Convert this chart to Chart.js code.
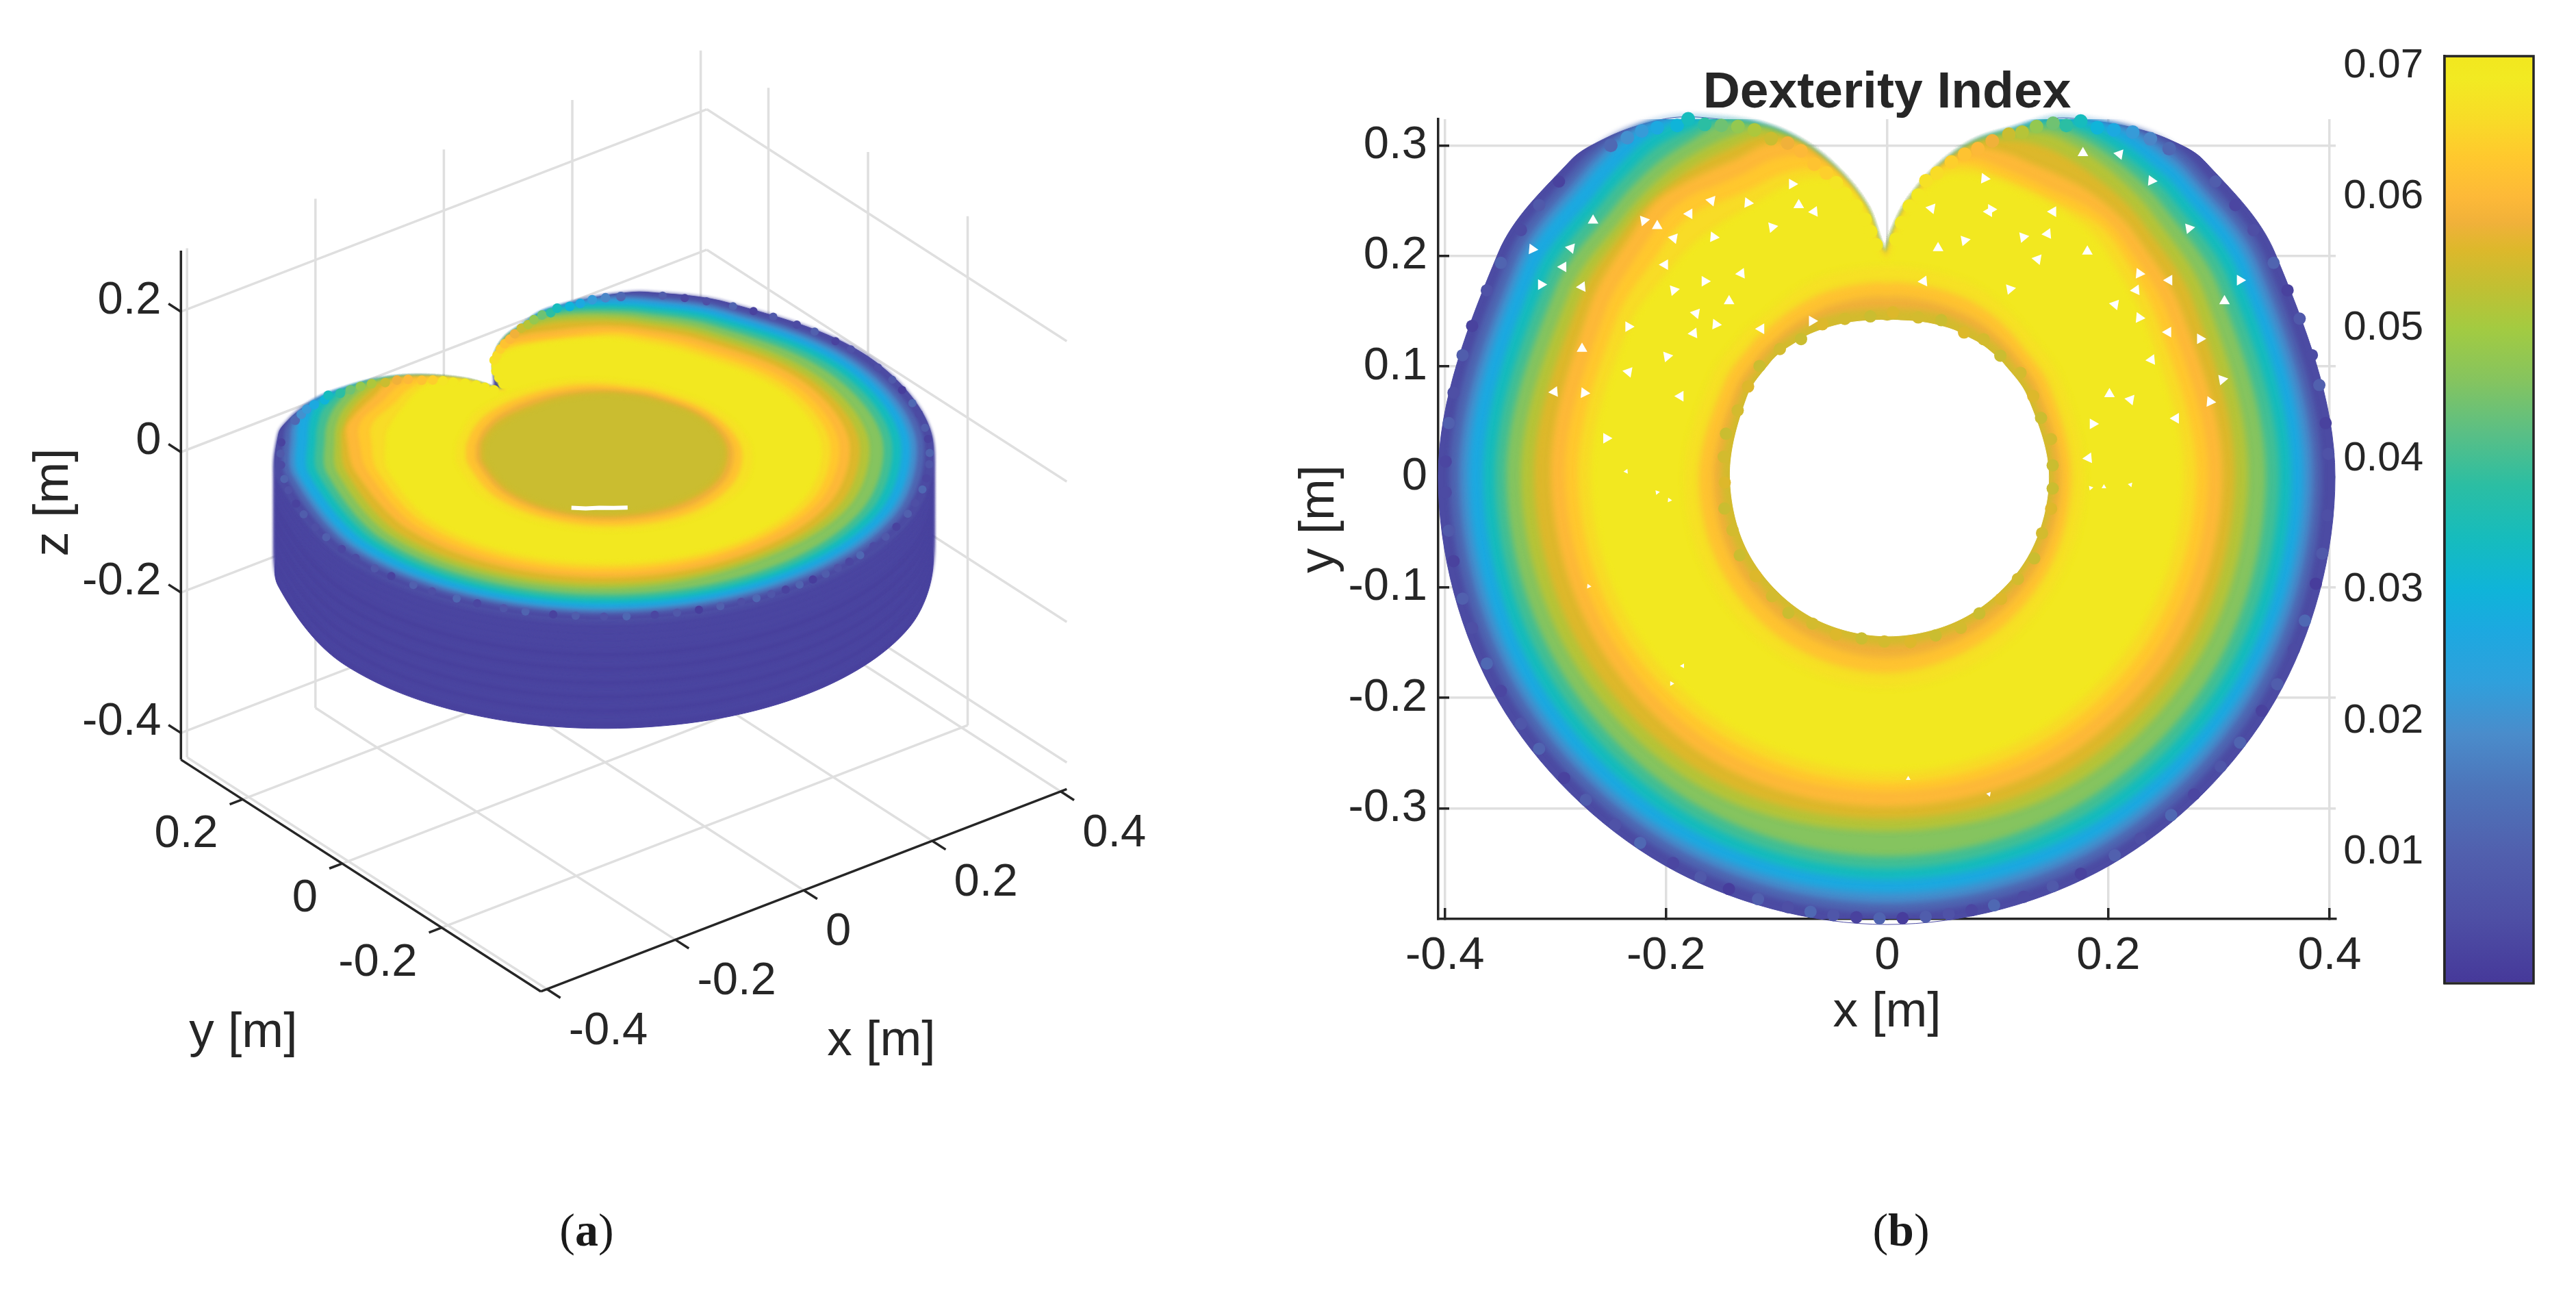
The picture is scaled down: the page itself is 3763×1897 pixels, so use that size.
<!DOCTYPE html>
<html>
<head>
<meta charset="utf-8">
<title>Dexterity Index</title>
<script src="https://cdn.jsdelivr.net/npm/chart.js@4/dist/chart.umd.min.js"></script>
<style>
html, body { margin: 0; padding: 0; background: #fff; }
body { width: 3763px; height: 1897px; position: relative; overflow: hidden; }
canvas { position: absolute; top: 0; }
#panelA { left: 0; }
#panelB { left: 1880px; }
#panelC { left: 3400px; }
.caption { position: absolute; top: 1757px; font: 68px "Liberation Serif", serif; color: #1a1a1a; transform: translateX(-50%); }
.caption b { font-weight: bold; }
</style>
</head>
<body>
<canvas id="panelA" width="1880" height="1897"></canvas>
<canvas id="panelB" width="1650" height="1897"></canvas>
<canvas id="panelC" width="363" height="1897"></canvas>
<div class="caption" style="left:857px">(<b>a</b>)</div>
<div class="caption" style="left:2777px">(<b>b</b>)</div>
<script>
// Tick values
const xTicks = [-0.4, -0.2, 0, 0.2, 0.4];
const yTicks = [-0.3, -0.2, -0.1, 0, 0.1, 0.2, 0.3];
const xTicks3d = [-0.4, -0.2, 0, 0.2, 0.4];
const yTicks3d = [-0.2, 0, 0.2];
const zTicks3d = [-0.4, -0.2, 0, 0.2];
const colorbarTicks = [0.01, 0.02, 0.03, 0.04, 0.05, 0.06, 0.07];

// Colormap
const colormapValues = [0.0001, 0.005, 0.010, 0.015, 0.019, 0.023, 0.027, 0.030, 0.034, 0.038, 0.042, 0.046, 0.050, 0.053, 0.056, 0.058, 0.060, 0.063, 0.066, 0.069, 0.0708];
const colormapColors = ['#46399A', '#4E4FA5', '#5160AE', '#4D75BA', '#4A8CCB', '#2FA0DC', '#1CA9E0', '#0FB4D9', '#16BCBD', '#2BBEA3', '#5ABF85', '#85C45F', '#A3CB41', '#C0C033', '#DDB82B', '#F0B13A', '#FDB938', '#FFC82E', '#F8DC27', '#F2EA22', '#F2E71F'];

// Angles (deg) at which the iso-dexterity outlines were read
const outlineAngles = [0, 30, 45, 50, 55, 60, 65, 70, 75, 80, 85, 88, 90, 92, 95, 100, 105, 110, 115, 120, 125, 130, 135, 150, 180, 210, 240, 270, 300, 330];

// Radius (m) of each outline at those angles, outermost first
const outerEdge = [.405, .405, .405, .398, .386, .372, .358, .333, .313, .285, .250, .222, .197, .207, .245, .283, .314, .338, .357, .376, .389, .399, .405, .406, .406, .406, .405, .405, .405, .405];
const band012 = [.392, .394, .396, .395, .386, .372, .358, .333, .313, .285, .250, .222, .197, .207, .245, .283, .314, .338, .357, .376, .389, .397, .397, .396, .395, .394, .394, .394, .394, .393];
const band020 = [.384, .386, .388, .388, .384, .372, .358, .333, .313, .285, .250, .222, .197, .207, .245, .283, .314, .338, .357, .376, .388, .391, .389, .387, .386, .385, .385, .385, .385, .384];
const band027 = [.376, .378, .381, .381, .379, .372, .358, .333, .313, .285, .250, .222, .197, .207, .245, .283, .314, .338, .357, .376, .385, .385, .382, .380, .378, .377, .377, .376, .377, .376];
const band034 = [.365, .367, .370, .370, .370, .367, .358, .333, .313, .285, .250, .222, .197, .207, .245, .283, .314, .338, .357, .372, .375, .372, .368, .367, .365, .365, .365, .364, .365, .365];
const band040 = [.354, .356, .360, .361, .361, .360, .354, .333, .313, .285, .250, .222, .197, .207, .245, .283, .314, .338, .357, .361, .364, .361, .358, .356, .354, .354, .354, .354, .354, .354];
const band046 = [.342, .345, .350, .352, .353, .353, .349, .333, .313, .285, .250, .222, .197, .207, .245, .283, .314, .338, .352, .352, .352, .350, .347, .345, .344, .343, .343, .343, .343, .343];
const band052 = [.326, .331, .338, .341, .343, .344, .342, .330, .313, .285, .250, .222, .197, .207, .245, .283, .314, .336, .339, .340, .340, .338, .335, .332, .331, .329, .327, .320, .325, .326];
const band056 = [.314, .319, .326, .329, .330, .331, .330, .324, .313, .285, .250, .222, .197, .207, .245, .283, .314, .328, .329, .330, .330, .329, .327, .321, .319, .317, .315, .309, .313, .314];
const band060 = [.303, .306, .314, .316, .316, .314, .312, .312, .308, .285, .250, .222, .197, .207, .245, .283, .312, .320, .318, .320, .323, .325, .320, .310, .304, .302, .301, .298, .300, .302];
const band063 = [.290, .293, .302, .305, .303, .299, .298, .298, .298, .285, .250, .222, .197, .207, .245, .283, .300, .305, .303, .305, .310, .310, .305, .295, .291, .289, .288, .284, .287, .289];
const band066 = [.279, .282, .294, .297, .294, .291, .290, .290, .291, .283, .250, .222, .197, .207, .245, .278, .288, .290, .288, .290, .295, .295, .290, .283, .279, .278, .277, .276, .277, .278];
const band070 = [.268, .271, .283, .288, .288, .287, .286, .286, .284, .275, .250, .222, .197, .207, .245, .272, .279, .278, .275, .274, .274, .274, .272, .270, .268, .267, .267, .267, .267, .267];
// Outlines going in towards the hole
const inner067 = [.178, .180, .182, .184, .186, .188, .190, .190, .190, .190, .190, .190, .190, .190, .190, .190, .190, .190, .188, .186, .184, .184, .184, .183, .183, .185, .188, .190, .186, .180];
const inner062 = [.166, .168, .170, .172, .174, .175, .176, .176, .176, .176, .176, .176, .175, .176, .176, .176, .176, .176, .175, .174, .173, .172, .172, .170, .170, .172, .175, .177, .172, .168];
const inner058 = [.157, .158, .160, .161, .162, .163, .163, .163, .163, .163, .163, .163, .162, .163, .163, .163, .163, .163, .162, .162, .161, .160, .160, .158, .157, .159, .161, .163, .160, .158];
const inner055 = [.151, .152, .154, .155, .155, .155, .155, .155, .154, .153, .152, .152, .151, .152, .152, .153, .154, .155, .155, .155, .155, .155, .154, .152, .150, .151, .152, .152, .152, .151];
const holeEdge = [.146, .146, .147, .147, .147, .146, .146, .145, .144, .143, .142, .142, .141, .142, .142, .143, .144, .145, .146, .147, .147, .148, .148, .146, .142, .143, .144, .144, .145, .146];

const outerBands = [band012, band020, band027, band034, band040, band046, band052, band056, band060, band063, band066, band070];
const outerBandValues = [0.012, 0.020, 0.027, 0.034, 0.040, 0.046, 0.052, 0.056, 0.060, 0.063, 0.066, 0.070];
const innerBands = [inner067, inner062, inner058, inner055];
const innerBandValues = [0.067, 0.062, 0.058, 0.055];
const edgeValue = 0.004;
const holeFloorValue = 0.054;

// Dots round the rim of the top view
const rimAngles = [3, 7, 12, 16, 21, 25, 29, 34, 38, 42, 138, 142, 146, 151, 155, 160, 164, 169, 173, 178, 182, 187, 191, 196, 200, 205, 209, 214, 218, 223, 227, 232, 236, 241, 245, 249, 253, 257, 260, 263, 266, 269, 272, 275, 278, 281, 284, 288, 292, 296, 301, 305, 310, 314, 319, 323, 328, 332, 337, 341, 346, 350, 355];
const rimValues = [0.006, 0.002, 0.010, 0.004, 0.008, 0.002, 0.011, 0.005, 0.003, 0.009, 0.002, 0.008, 0.004, 0.011, 0.006, 0.002, 0.009, 0.005, 0.010, 0.003, 0.004, 0.008, 0.002, 0.010, 0.005, 0.012, 0.003, 0.007, 0.011, 0.002, 0.009, 0.006, 0.012, 0.003, 0.008, 0.001, 0.010, 0.005, 0.012, 0.007, 0.002, 0.011, 0.001, 0.009, 0.006, 0.003, 0.012, 0.004, 0.008, 0.002, 0.010, 0.005, 0.012, 0.003, 0.007, 0.011, 0.002, 0.009, 0.004, 0.012, 0.001, 0.008, 0.005];

// Dots along the notched top edge, x (m), y (m) and dexterity
const topDotX = [-.250, -.235, -.222, -.208, -.190, -.180, -.165, -.150, -.135, -.120, -.105, -.090, -.078, -.066, -.055, -.046, -.038, -.028, -.020, -.015, -.010, .008, .013, .020, .028, .035, .045, .058, .070, .082, .095, .110, .122, .135, .150, .162, .175, .190, .205, .222, .238, .255];
const topDotY = [.300, .307, .313, .316, .318, .324, .319, .318, .317, .314, .306, .302, .295, .283, .275, .266, .256, .245, .233, .222, .210, .215, .230, .245, .255, .268, .275, .285, .292, .297, .304, .310, .312, .317, .320, .318, .322, .316, .314, .312, .306, .297];
const topDotValues = [.012, .020, .022, .027, .030, .034, .038, .044, .048, .051, .054, .058, .060, .062, .064, .068, .070, .070, .070, .070, .070, .070, .070, .070, .070, .067, .066, .064, .062, .060, .058, .054, .052, .048, .044, .038, .034, .030, .027, .022, .018, .012];

// Dots bulging into the hole, angle (deg) and radius (m)
const holeDotAngles = [4, 13, 21, 29, 38, 47, 55, 62, 71, 79, 88, 96, 105, 113, 122, 130, 139, 147, 156, 165, 173, 182, 191, 199, 208, 217, 226, 234, 243, 252, 261, 269, 278, 287, 296, 304, 313, 322, 331, 340, 349, 356];
const holeDotRadii = [.150, .152, .149, .151, .153, .150, .152, .148, .150, .147, .149, .146, .148, .150, .147, .151, .153, .150, .148, .151, .149, .147, .150, .148, .151, .149, .150, .152, .149, .150, .148, .149, .151, .150, .152, .149, .151, .150, .152, .149, .151, .150];
const holeDotValues = [.054, .055, .054, .056, .055, .054, .055, .056, .054, .055, .056, .054, .055, .056, .054, .055, .054, .056, .055, .054, .055, .056, .054, .055, .054, .056, .055, .054, .055, .056, .054, .055, .056, .054, .055, .054, .056, .055, .054, .055, .056, .054];

// Gaps between the dots in the top view, [x, y] in m
const gapPoints = [
  [-.266, .232], [-.286, .207], [-.321, .206], [-.293, .190], [-.313, .174], [-.276, .172], [-.220, .232], [-.208, .227],
  [-.159, .250], [-.126, .248], [-.179, .238], [-.086, .265], [-.066, .240], [-.104, .226], [-.080, .246], [-.193, .216],
  [-.157, .217], [-.201, .192], [-.165, .177], [-.132, .184], [-.193, .169], [-.143, .159], [-.173, .148], [-.155, .138],
  [-.114, .134], [-.068, .141], [.033, .177], [.070, .214], [.046, .207], [.040, .243], [.088, .270], [.092, .240],
  [-.234, .136], [-.175, .130], [-.199, .109], [-.276, .116], [-.234, .095], [-.274, .076], [-.187, .073], [-.254, .035],
  [-.301, .077], [.123, .217], [.177, .293], [.210, .292], [.239, .268], [.150, .240], [.094, .242], [.145, .220],
  [.273, .225], [.181, .204], [.136, .197], [.228, .184], [.255, .178], [.319, .178], [.225, .169], [.111, .170],
  [.305, .159], [.206, .156], [.228, .144], [.254, .131], [.283, .125], [.239, .106], [.303, .088], [.201, .075],
  [.220, .070], [.292, .068], [.261, .053], [.186, .048], [.182, .017], [.184, -.010], [.196, -.009], [.220, -.007],
  [-.197, -.021], [-.185, -.171], [-.195, -.187], [-.236, .005], [-.208, -.014], [.019, -.273], [.092, -.287], [-.270, -.099]
];
const gapRotations = [0, 40, 95, 150, 210, 265, 320];
// White sliver on the hole floor of the 3D view, [x, y] in m
const floorGap = [[-.113, -.078], [-.100, -.090], [-.086, -.099], [-.072, -.110], [-.058, -.120]];

// Heights (m) of the outer wall in the 3D view
const wallHeights = [-.156, -.146, -.136, -.126, -.116, -.106, -.096, -.086, -.076, -.066, -.056, -.046, -.036, -.026, -.016, -.006, 0];
const wallValues = [.002, .003, .002, .003, .002, .003, .002, .003, .002, .003, .002, .003, .003, .003, .003, .005, .005];

const inkColor = '#262626';
const gridColor = '#dfdfdf';
const fontFamily = '"Liberation Sans", Arial, sans-serif';

// Axis box of the 3D view
const xLim3d = [-0.4095, 0.4095];
const yLim3d = [-0.399, 0.3237];
const zLim3d = [-0.438, 0.287];

function hexToRgb(hex) {
    return [1, 3, 5].map(i => parseInt(hex.substr(i, 2), 16));
}

function colorFor(value) {
    let i = 0;
    while (i < colormapValues.length - 2 && value > colormapValues[i + 1]) i++;
    const t = Math.min(1, Math.max(0, (value - colormapValues[i]) / (colormapValues[i + 1] - colormapValues[i])));
    const a = hexToRgb(colormapColors[i]);
    const b = hexToRgb(colormapColors[i + 1]);
    const c = a.map((v, k) => Math.round(v + (b[k] - v) * t));
    return 'rgb(' + c.join(',') + ')';
}

// Orthographic view of the 3D axes
function project(x, y, z) {
    return { x: 883.5 + 945 * x - 733 * y, y: 662 - 363.6 * x - 472 * y - 1033 * z };
}

function polar(angle, radius) {
    const t = angle * Math.PI / 180;
    return [radius * Math.cos(t), radius * Math.sin(t)];
}

// Outline starts and ends at the notch so the join falls on the cusp
function outlinePoints(radii, mapPoint) {
    const start = outlineAngles.indexOf(90);
    const pts = [];
    for (let k = 0; k <= outlineAngles.length; k++) {
        const i = (start + k) % outlineAngles.length;
        pts.push(mapPoint(...polar(outlineAngles[i], radii[i])));
    }
    return pts;
}

function bandDataset(radii, color, mapPoint, hard) {
    return {
        hard: hard,
        data: outlinePoints(radii, mapPoint),
        showLine: true,
        fill: 'shape',
        tension: 0.34,
        capBezierPoints: false,
        backgroundColor: color,
        borderColor: color,
        borderWidth: 1,
        pointRadius: 0,
        clip: false
    };
}

function lineDataset(points, color, width) {
    return {
        data: points,
        showLine: true,
        fill: false,
        borderColor: color,
        borderWidth: width,
        borderCapStyle: 'butt',
        pointRadius: 0,
        clip: false
    };
}

function dotDataset(points, colors, radius) {
    return {
        data: points,
        pointRadius: radius,
        pointBackgroundColor: colors,
        pointBorderWidth: 0,
        clip: false
    };
}

// Bands shared by both views, painted from the rim inwards
function discDatasets(mapPoint) {
    const list = [bandDataset(outerEdge, colorFor(edgeValue), mapPoint, true)];
    outerBands.forEach((radii, i) => list.push(bandDataset(radii, colorFor(outerBandValues[i]), mapPoint)));
    innerBands.forEach((radii, i) => list.push(bandDataset(radii, colorFor(innerBandValues[i]), mapPoint)));
    return list;
}

function topDots(mapPoint, radius) {
    return dotDataset(topDotX.map((x, i) => mapPoint(x, topDotY[i])), topDotValues.map(colorFor), radius);
}

function rimDots(mapPoint, radius) {
    return dotDataset(rimAngles.map(a => mapPoint(...polar(a, 0.3995))), rimValues.map(colorFor), radius);
}

// Chart.js paints the first dataset last, so flip the painter's order
function paintOrder(list) {
    return list.slice().reverse();
}

// The bands are soft in the picture (thousands of overlapping dots), so blur only them.
// The filler runs before this plugin's hook, so the filter for a dataset is set after the previous one.
function softPlugin(radius) {
    return {
        id: 'softPlugin',
        afterDatasetDraw(chart, args) {
            const next = chart.data.datasets[args.index - 1];
            chart.ctx.filter = next && next.fill === 'shape' && !next.hard ? 'blur(' + radius + 'px)' : 'none';
        },
        afterDatasetsDraw(chart) {
            chart.ctx.filter = 'none';
        }
    };
}

function buildPanelA() {
    const list = [];
    const [x0, x1] = xLim3d;
    const [y0, y1] = yLim3d;
    const [z0, z1] = zLim3d;
    const grid = (a, b) => list.push(lineDataset([project(...a), project(...b)], gridColor, 3.5));

    xTicks3d.forEach(x => {
        grid([x, y0, z0], [x, y1, z0]);
        grid([x, y1, z0], [x, y1, z1]);
    });
    yTicks3d.forEach(y => {
        grid([x0, y, z0], [x1, y, z0]);
        grid([x1, y, z0], [x1, y, z1]);
    });
    zTicks3d.forEach(z => {
        grid([x0, y1, z], [x1, y1, z]);
        grid([x1, y1, z], [x1, y0, z]);
    });

    const top = (x, y) => project(x, y, 0);
    wallHeights.forEach((z, i) => {
        list.push(bandDataset(outerEdge, colorFor(wallValues[i]), (x, y) => project(x, y, z), i === 0));
    });
    discDatasets(top).forEach(d => list.push(d));
    list.push(bandDataset(holeEdge, colorFor(holeFloorValue), top));
    list.push(rimDots(top, 6));
    list.push(topDots(top, 7));
    list.push(lineDataset(floorGap.map(p => top(p[0], p[1])), '#ffffff', 6));

    const axis = (a, b) => list.push(lineDataset([project(...a), project(...b)], inkColor, 3.5));
    axis([x0, y1, z0], [x0, y1, z1]);
    axis([x0, y1, z0], [x0, y0, z0]);
    axis([x0, y0, z0], [x1, y0, z0]);
    xTicks3d.forEach(x => axis([x, y0, z0], [x, y0 - 0.027, z0]));
    yTicks3d.forEach(y => axis([x0, y, z0], [x0 - 0.02, y, z0]));
    zTicks3d.forEach(z => axis([x0, y1, z], [x0, y1 + 0.025, z]));
    return paintOrder(list);
}

function panelALabels() {
    const labels = [];
    const [x0] = xLim3d;
    const [y0, y1] = yLim3d;
    const [z0] = zLim3d;
    xTicks3d.forEach(x => {
        const p = project(x, y0, z0);
        labels.push({ text: String(x), x: p.x + 32, y: p.y + 62, align: 'left', size: 67 });
    });
    yTicks3d.forEach(y => {
        const p = project(x0, y, z0);
        labels.push({ text: String(y), x: p.x - 36, y: p.y + 52, align: 'right', size: 67 });
    });
    zTicks3d.forEach(z => {
        const p = project(x0, y1, z);
        labels.push({ text: String(z), x: p.x - 29, y: p.y - 16, align: 'right', size: 67 });
    });
    labels.push({ text: 'x [m]', x: 1290, y: 1525, align: 'center', size: 73 });
    labels.push({ text: 'y [m]', x: 351, y: 1513, align: 'center', size: 73 });
    labels.push({ text: 'z [m]', x: 72, y: 732, align: 'center', size: 73, rotate: -Math.PI / 2 });
    return labels;
}

const labelPlugin = {
    id: 'labelPlugin',
    afterDraw(chart) {
        const { ctx, scales } = chart;
        panelALabels().forEach(l => {
            ctx.save();
            ctx.translate(scales.x.getPixelForValue(l.x), scales.y.getPixelForValue(l.y));
            if (l.rotate) ctx.rotate(l.rotate);
            ctx.font = l.size + 'px ' + fontFamily;
            ctx.fillStyle = inkColor;
            ctx.textAlign = l.align;
            ctx.textBaseline = 'middle';
            ctx.fillText(l.text, 0, 0);
            ctx.restore();
        });
    }
};

function buildPanelB() {
    const list = [];
    const plain = (x, y) => ({ x, y });
    discDatasets(plain).forEach(d => list.push(d));
    list.push(bandDataset(holeEdge, '#ffffff', plain, true));
    list.push(dotDataset(holeDotAngles.map((a, i) => plain(...polar(a, holeDotRadii[i]))), holeDotValues.map(colorFor), 9));
    list.push(rimDots(plain, 9));
    list.push(topDots(plain, 10));
    list.push({
        data: gapPoints.map(p => ({ x: p[0], y: p[1] })),
        pointStyle: 'triangle',
        pointRadius: gapPoints.map(p => p[1] < 0.01 ? 4 : 9),
        pointRotation: gapPoints.map((p, i) => gapRotations[i % gapRotations.length]),
        pointBackgroundColor: '#ffffff',
        pointBorderWidth: 0,
        clip: false
    });
    return paintOrder(list);
}

const flatOptions = { animation: false, responsive: false, devicePixelRatio: 1, events: [] };

document.addEventListener('DOMContentLoaded', function() {
    new Chart(document.getElementById('panelA'), {
        type: 'scatter',
        data: { datasets: buildPanelA() },
        plugins: [labelPlugin, softPlugin(2.5)],
        options: {
            ...flatOptions,
            layout: { padding: 0 },
            plugins: { legend: { display: false }, tooltip: { enabled: false } },
            scales: {
                x: { type: 'linear', min: 0, max: 1880, display: false },
                y: { type: 'linear', min: 0, max: 1897, reverse: true, display: false }
            }
        }
    });

    new Chart(document.getElementById('panelB'), {
        type: 'scatter',
        data: { datasets: buildPanelB() },
        plugins: [softPlugin(4)],
        options: {
            ...flatOptions,
            layout: { padding: { left: 0, right: 118, top: 0, bottom: 374 } },
            plugins: {
                legend: { display: false },
                tooltip: { enabled: false },
                title: {
                    display: true,
                    text: 'Dexterity Index',
                    color: inkColor,
                    fullSize: false,
                    font: { family: fontFamily, size: 75, weight: 'bold', lineHeight: 1.2 },
                    padding: { top: 91, bottom: -7 }
                }
            },
            scales: {
                x: {
                    type: 'linear', min: -0.406, max: 0.4056,
                    afterBuildTicks: s => { s.ticks = xTicks.map(v => ({ value: v })); },
                    afterFit: s => { s.height = 181; },
                    grid: { color: gridColor, lineWidth: 3.5, tickColor: inkColor, tickLength: -16, tickWidth: 3.5 },
                    border: { color: inkColor, width: 3.5 },
                    ticks: { color: inkColor, autoSkip: false, maxRotation: 0, padding: 30, font: { family: fontFamily, size: 67 }, callback: v => String(v) },
                    title: { display: true, text: 'x [m]', color: inkColor, padding: 0, font: { family: fontFamily, size: 73 } }
                },
                y: {
                    type: 'linear', min: -0.40, max: 0.3237,
                    afterBuildTicks: s => { s.ticks = yTicks.map(v => ({ value: v })); },
                    afterFit: s => { s.width = 221; },
                    grid: { color: gridColor, lineWidth: 3.5, tickColor: inkColor, tickLength: -16, tickWidth: 3.5 },
                    border: { color: inkColor, width: 3.5 },
                    ticks: { color: inkColor, autoSkip: false, padding: 32, font: { family: fontFamily, size: 67 }, callback: v => String(v) },
                    title: { display: true, text: 'y [m]', color: inkColor, padding: 4, font: { family: fontFamily, size: 73 } }
                }
            }
        }
    });

    const framePlugin = {
        id: 'framePlugin',
        afterDatasetsDraw(chart) {
            const { ctx, chartArea: a } = chart;
            ctx.save();
            ctx.strokeStyle = inkColor;
            ctx.lineWidth = 3.5;
            ctx.strokeRect(a.left, a.top, a.right - a.left, a.bottom - a.top);
            ctx.restore();
        }
    };

    new Chart(document.getElementById('panelC'), {
        type: 'bar',
        data: {
            labels: ['Dexterity Index'],
            datasets: [{
                data: [[colormapValues[0], colormapValues[colormapValues.length - 1]]],
                barPercentage: 1,
                categoryPercentage: 1,
                borderWidth: 0,
                backgroundColor: ctx => {
                    const { chart } = ctx;
                    if (!chart.chartArea) return colormapColors[0];
                    const y = chart.scales.y;
                    const g = chart.ctx.createLinearGradient(0, y.bottom, 0, y.top);
                    const span = y.max - y.min;
                    colormapValues.forEach((v, i) => g.addColorStop(Math.min(1, Math.max(0, (v - y.min) / span)), colormapColors[i]));
                    return g;
                }
            }]
        },
        plugins: [framePlugin],
        options: {
            ...flatOptions,
            layout: { padding: { left: 0, right: 62, top: 82, bottom: 461 } },
            plugins: { legend: { display: false }, tooltip: { enabled: false } },
            scales: {
                x: { display: false },
                y: {
                    type: 'linear', min: 0, max: 0.07075, z: 1,
                    afterBuildTicks: s => { s.ticks = colorbarTicks.map(v => ({ value: v })); },
                    afterFit: s => { s.width = 171; },
                    grid: { color: 'rgba(0,0,0,0)', tickColor: inkColor, tickLength: -15, tickWidth: 3.5 },
                    border: { color: inkColor, width: 3.5 },
                    ticks: { color: inkColor, autoSkip: false, padding: 46, font: { family: fontFamily, size: 60 }, callback: v => String(v) }
                }
            }
        }
    });
});
</script>
</body>
</html>
